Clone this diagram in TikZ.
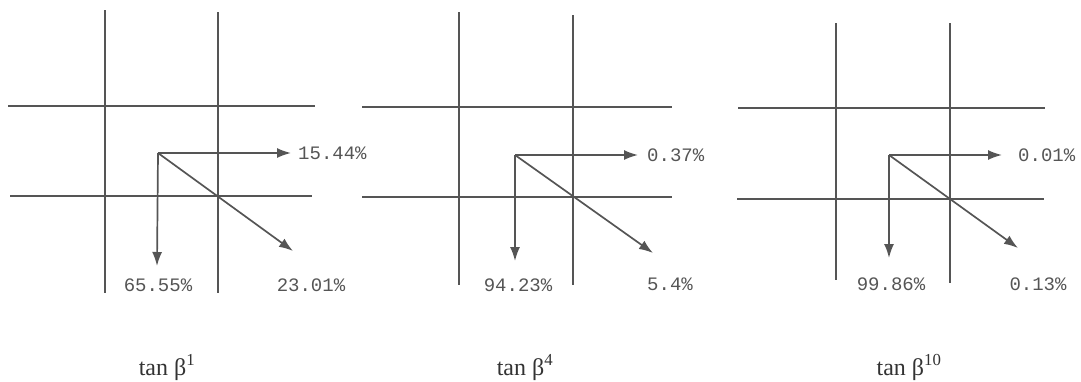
\documentclass[tikz,border=0pt]{standalone}
\usepackage{fontspec}
\setmainfont{Liberation Serif}
\newfontfamily\labfont{Liberation Mono}
\usetikzlibrary{arrows.meta}
\definecolor{linegray}{HTML}{555555}
\definecolor{textgray}{HTML}{555555}
\begin{document}
\begin{tikzpicture}[x=1pt,y=-1pt,
  gridline/.style={draw=linegray,line width=1.5pt},
  vec/.style={draw=linegray,line width=1.7pt,-{Latex[length=14pt,width=10pt]}},
  pct/.style={font=\labfont\fontsize{19}{19}\selectfont,text=textgray,inner sep=0pt},
  captext/.style={font=\fontsize{24}{24}\selectfont,text=black!80,inner sep=0pt,anchor=base}]
\useasboundingbox (0,0) rectangle (1081,381);

% ---------- Panel 1 ----------
\draw[gridline] (105,10) -- (105,293);
\draw[gridline] (218,12) -- (218,293);
\draw[gridline] (8,106) -- (315,106);
\draw[gridline] (10,196) -- (312,196);
\coordinate (o1) at (158,153);
\coordinate (r1) at (291,153);
\coordinate (d1) at (157,266);
\coordinate (g1) at (293,251);
\draw[vec] (o1) -- (r1);
\draw[vec] (o1) -- (d1);
\draw[vec] (o1) -- (g1);
\node[pct,anchor=west] (lr1) at (298,153) {15.44\%};
\node[pct] (ld1) at (158,285) {65.55\%};
\node[pct] (lg1) at (311,285) {23.01\%};
\node[captext] (c1) at (167,375) {tan β\textsuperscript{1}};

% ---------- Panel 2 ----------
\draw[gridline] (459,12) -- (459,285);
\draw[gridline] (573,15) -- (573,285);
\draw[gridline] (362,107) -- (672,107);
\draw[gridline] (362,197) -- (672,197);
\coordinate (o2) at (515,155);
\coordinate (r2) at (638,155);
\coordinate (d2) at (515,261);
\coordinate (g2) at (653,253);
\draw[vec] (o2) -- (r2);
\draw[vec] (o2) -- (d2);
\draw[vec] (o2) -- (g2);
\node[pct,anchor=west] (lr2) at (647,155) {0.37\%};
\node[pct] (ld2) at (518,285) {94.23\%};
\node[pct] (lg2) at (670,284) {5.4\%};
\node[captext] (c2) at (525,375) {tan β\textsuperscript{4}};

% ---------- Panel 3 ----------
\draw[gridline] (836,23) -- (836,280);
\draw[gridline] (950,23) -- (950,283);
\draw[gridline] (738,108) -- (1045,108);
\draw[gridline] (737,199) -- (1044,199);
\coordinate (o3) at (889,155);
\coordinate (r3) at (1002,155);
\coordinate (d3) at (889,258);
\coordinate (g3) at (1018,248);
\draw[vec] (o3) -- (r3);
\draw[vec] (o3) -- (d3);
\draw[vec] (o3) -- (g3);
\node[pct,anchor=west] (lr3) at (1018,155) {0.01\%};
\node[pct] (ld3) at (891,284) {99.86\%};
\node[pct] (lg3) at (1038,284) {0.13\%};
\node[captext] (c3) at (909,375) {tan β\textsuperscript{10}};
\end{tikzpicture}
\end{document}
